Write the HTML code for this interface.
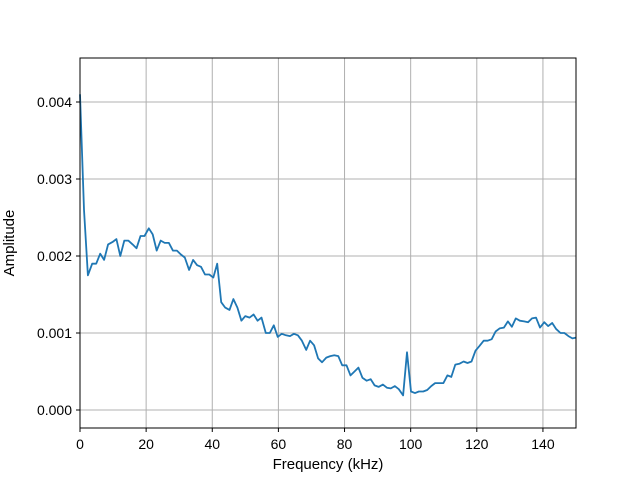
<!DOCTYPE html>
<html><head><meta charset="utf-8"><style>
body{margin:0;background:#fff;}
svg{display:block;font-family:"Liberation Sans","DejaVu Sans",sans-serif;}
</style></head><body>
<svg id="chart" width="640" height="480">
<rect width="640" height="480" fill="#fff"/>
<g id="grid"></g>
<g id="series"></g>
<rect x="80" y="58" width="496" height="370" fill="none" stroke="#000" stroke-width="1"/>
<g id="ticks"></g>
<text x="328" y="469" font-size="15" text-anchor="middle">Frequency (kHz)</text>
<text x="0" y="0" font-size="15" text-anchor="middle" transform="translate(14,243) rotate(-90)">Amplitude</text>
</svg>
<script>
const freqs=[0,1.2,2.4,3.7,4.9,6.1,7.3,8.5,9.8,11,12.2,13.4,14.6,15.9,17.1,18.3,19.5,20.8,22,23.2,24.4,25.6,26.9,28.1,29.3,30.5,31.7,33,34.2,35.4,36.6,37.8,39.1,40.3,41.5,42.7,43.9,45.2,46.4,47.6,48.8,50,51.3,52.5,53.7,54.9,56.2,57.4,58.6,59.8,61,62.3,63.5,64.7,65.9,67.1,68.4,69.6,70.8,72,73.2,74.5,75.7,76.9,78.1,79.3,80.6,81.8,83,84.2,85.4,86.7,87.9,89.1,90.3,91.6,92.8,94,95.2,96.4,97.7,98.9,100.1,101.3,102.5,103.8,105,106.2,107.4,108.6,109.9,111.1,112.3,113.5,114.7,116,117.2,118.4,119.6,120.8,122.1,123.3,124.5,125.7,126.9,128.2,129.4,130.6,131.8,133,134.3,135.5,136.7,137.9,139.1,140.4,141.6,142.8,144,145.3,146.5,147.7,148.9,150];
const amps=[0.0041,0.0026,0.00175,0.0019,0.0019,0.00203,0.00195,0.00215,0.00218,0.00222,0.002,0.0022,0.0022,0.00215,0.0021,0.00226,0.00226,0.00236,0.00228,0.00207,0.0022,0.00217,0.00217,0.00207,0.00207,0.00202,0.00198,0.00182,0.00195,0.00188,0.00186,0.00176,0.00176,0.00172,0.0019,0.0014,0.00133,0.0013,0.00144,0.00133,0.00116,0.00122,0.0012,0.00124,0.00116,0.0012,0.001,0.001,0.0011,0.00095,0.00099,0.00097,0.00096,0.00099,0.00097,0.0009,0.00078,0.0009,0.00084,0.00067,0.00062,0.00068,0.0007,0.00071,0.0007,0.00058,0.00058,0.00045,0.0005,0.00055,0.00042,0.00038,0.0004,0.00032,0.0003,0.00033,0.00029,0.00028,0.00031,0.00027,0.00019,0.00075,0.00024,0.00022,0.00024,0.00024,0.00026,0.00031,0.00035,0.00035,0.00035,0.00045,0.00043,0.00059,0.0006,0.00063,0.00061,0.00063,0.00077,0.00083,0.0009,0.0009,0.00092,0.00102,0.00106,0.00107,0.00115,0.00108,0.00119,0.00116,0.00115,0.00114,0.00119,0.0012,0.00107,0.00114,0.00109,0.00113,0.00105,0.001,0.001,0.00096,0.00093,0.00094];
const xTicks=[0,20,40,60,80,100,120,140];
const yTicks=[0,0.001,0.002,0.003,0.004];
const yTickLabels=["0.000","0.001","0.002","0.003","0.004"];
const NS="http://www.w3.org/2000/svg";
const X0=80,X1=576,XMIN=0,XMAX=150,Y0=410,PERU=77000;
function xs(v){return X0+(v-XMIN)/(XMAX-XMIN)*(X1-X0);}
function ys(v){return Y0-v*PERU;}
function mk(tag,attrs,parent){const e=document.createElementNS(NS,tag);for(const k in attrs)e.setAttribute(k,attrs[k]);parent.appendChild(e);return e;}
const grid=document.getElementById('grid'),ticks=document.getElementById('ticks'),series=document.getElementById('series');
xTicks.forEach(t=>{const x=xs(t);
 const g=mk('line',{x1:x,x2:x,y1:58,y2:428,stroke:'#b0b0b0','stroke-width':1},grid);
 
 
 const tk=mk('line',{x1:x,x2:x,y1:428,y2:432,stroke:'#000'},ticks);
 
 
 const lb=mk('text',{x:x,y:449,'font-size':14,'text-anchor':'middle'},ticks);lb.textContent=t;
 
 
});
yTicks.forEach((t,i)=>{const y=ys(t);
 const g=mk('line',{x1:80,x2:576,y1:y,y2:y,stroke:'#b0b0b0','stroke-width':1},grid);
 
 
 const tk=mk('line',{x1:76,x2:80,y1:y,y2:y,stroke:'#000'},ticks);
 
 
 const lb=mk('text',{x:72,y:y+5,'font-size':14,'text-anchor':'end'},ticks);lb.textContent=yTickLabels[i];
 
 
});
const pts=freqs.map((f,i)=>xs(f).toFixed(1)+','+ys(amps[i]).toFixed(1)).join(' ');
const pl=mk('polyline',{points:pts,fill:'none',stroke:'#1f77b4','stroke-width':1.8,'stroke-linejoin':'round'},series);


</script>
</body></html>
